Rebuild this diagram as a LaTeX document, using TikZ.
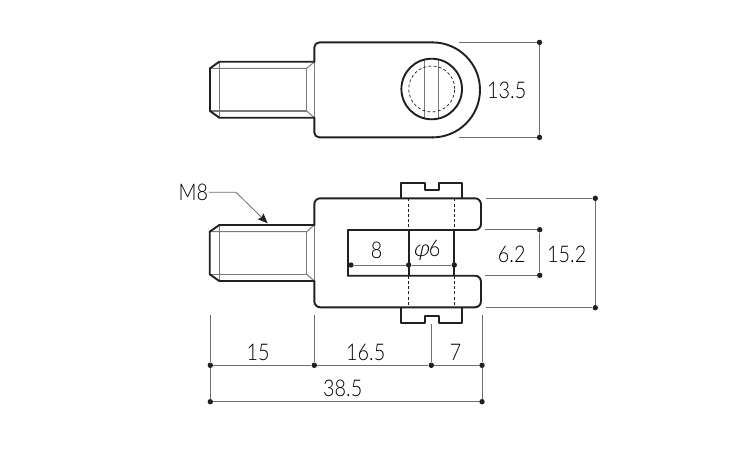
\documentclass[tikz,border=0pt]{standalone}
\usepackage{fontspec}
\setmainfont{Open Sans}
\newfontfamily\dimfont[FakeStretch=0.86,UprightFont=* Light]{Lato}
\newfontfamily\phifont[FakeSlant=0.22,UprightFont=* Light]{Lato}
\usetikzlibrary{arrows.meta}
\definecolor{ink}{HTML}{231F20}
\definecolor{dimgray}{HTML}{6E6E6E}
\definecolor{threadgray}{HTML}{7A7A7A}
\tikzset{
  outline/.style={draw=ink,line width=1.9pt,line join=round,line cap=round},
  slotline/.style={draw=ink,line width=1.7pt},
  hidden/.style={draw=ink,line width=0.7pt,dash pattern=on 3pt off 2.2pt},
  thingray/.style={draw=threadgray,line width=1pt},
  thickgray/.style={draw=threadgray,line width=1.6pt},
  dimline/.style={draw=dimgray,line width=0.8pt},
  dimdot/.style={circle,fill=ink,draw=none,inner sep=0pt,minimum size=5.4pt},
  dimtext/.style={text=black,font=\dimfont\fontsize{23}{25}\selectfont,inner sep=0pt,anchor=center},
}
\begin{document}
\begin{tikzpicture}[x=1pt,y=-1pt]
\useasboundingbox (0,0) rectangle (750,450);
\fill[white] (0,0) rectangle (750,450);

% ---------- top view ----------
\draw[thingray] (314.3,62) -- (314.3,118);
\draw[thingray] (210,68.3) -- (306.7,68.3) -- (314.3,62);
\draw[thickgray] (210,111) -- (306.7,111);
\draw[thingray] (306.7,111) -- (314.3,117.7);
\draw[thingray] (219.3,61.7) -- (219.3,117.7);
\draw[thingray] (306.7,68.3) -- (306.7,111);
\draw[thingray] (210,68.3) -- (219.3,61.7);
\draw[outline] (314.3,61.7) -- (219.3,61.7) -- (210,68.3) -- (210,111) -- (219.3,117.7) -- (314.3,117.7);
\draw[outline,rounded corners=5pt] (432.5,42.4) -- (314.3,42.4) -- (314.3,61.7);
\draw[outline,rounded corners=5pt] (432.5,137.4) -- (314.3,137.4) -- (314.3,117.7);
\draw[outline] (432.5,42.4) .. controls (458.7,42.4) and (480,63.7) .. (480,89.9)
  .. controls (480,116.1) and (458.7,137.4) .. (432.5,137.4);
\draw[thingray] (424.3,59.6) -- (424.3,118.4);
\draw[thingray] (438.3,59.6) -- (438.3,118.4);
\draw[outline] (431.7,89) circle[radius=30.3pt];
\draw[hidden] (431.7,89) circle[radius=23pt];

\node[dimdot] (a1) at (539.5,42.4) {};
\node[dimdot] (a2) at (539.5,137.4) {};
\coordinate (a1s) at (459,42.4);
\coordinate (a2s) at (459,137.4);
\draw[dimline] (a1s) -- (a1) (a2s) -- (a2) (a1) -- (a2);
\node[dimtext] (t135) at (506.7,90.5) {13.5};

% ---------- bottom view ----------
\draw[thingray] (314.3,225) -- (314.3,281);
\draw[thingray] (210,231.7) -- (306.7,231.7) -- (314.3,225);
\draw[thickgray] (210,274.3) -- (306.7,274.3);
\draw[thingray] (306.7,274.3) -- (314.3,281);
\draw[thingray] (219.3,225) -- (219.3,281);
\draw[thingray] (306.7,231.7) -- (306.7,274.3);
\draw[outline] (314.3,225) -- (219.3,225) -- (209.7,231.7) -- (209.7,274.3) -- (219.3,281) -- (314.3,281);
\draw[outline,rounded corners=6pt] (347.7,230) -- (481,230) -- (481,198.3) -- (314.3,198.3) -- (314.3,225);
\draw[outline,rounded corners=6pt] (347.7,275.7) -- (481,275.7) -- (481,307.3) -- (314.3,307.3) -- (314.3,281);
\draw[outline] (347.7,230) -- (347.7,275.7);
\draw[hidden] (408.7,198.3) -- (408.7,230) (408.7,275.7) -- (408.7,307.3);
\draw[hidden] (454.3,198.3) -- (454.3,230) (454.3,275.7) -- (454.3,307.3);
\draw[slotline] (408.7,230) -- (408.7,275.7);
\draw[slotline] (454.3,230) -- (454.3,275.7);
\draw[outline,line cap=butt] (401,198.3) -- (401,183.3) -- (425,183.3) -- (425,190) -- (439,190) -- (439,183.3) -- (462,183.3) -- (462,198.3);
\draw[outline,line cap=butt] (401,307.3) -- (401,323.3) -- (425,323.3) -- (425,315.7) -- (439,315.7) -- (439,323.3) -- (462,323.3) -- (462,307.3);

% inner dimensions
\node[dimdot] (b1) at (351,265) {};
\node[dimdot] (b2) at (408.7,265) {};
\node[dimdot] (b3) at (454.3,265) {};
\draw[dimline] (b1) -- (b2) (b2) -- (b3);
\node[dimtext] (t8) at (376.7,250.7) {8};
\node[dimtext] (tphi) at (426.7,250.7) {{\phifont φ}6};

% right dimensions
\node[dimdot] (c1) at (595.3,198.3) {};
\node[dimdot] (c2) at (595.3,307.7) {};
\node[dimdot] (c3) at (539.7,229.7) {};
\node[dimdot] (c4) at (539.7,275.3) {};
\coordinate (c1s) at (486,198.3);
\coordinate (c2s) at (486,307.7);
\coordinate (c3s) at (485,229.7);
\coordinate (c4s) at (485,275.3);
\draw[dimline] (c1s) -- (c1) (c2s) -- (c2) (c1) -- (c2);
\draw[dimline] (c3s) -- (c3) (c4s) -- (c4) (c3) -- (c4);
\node[dimtext] (t62) at (511.7,254) {6.2};
\node[dimtext] (t152) at (566.7,254) {15.2};

% bottom dimensions
\node[dimdot] (d1) at (210.3,365.3) {};
\node[dimdot] (d2) at (314.3,365.3) {};
\node[dimdot] (d3) at (431.3,365.3) {};
\node[dimdot] (d4) at (482,365.3) {};
\node[dimdot] (e1) at (210.3,401.7) {};
\node[dimdot] (e2) at (482,401.7) {};
\coordinate (d1s) at (210.3,315);
\coordinate (d2s) at (314.3,315);
\coordinate (d3s) at (431.3,324);
\coordinate (d4s) at (482,315);
\draw[dimline] (d1) -- (d2) (d2) -- (d3) (d3) -- (d4) (e1) -- (e2);
\draw[dimline] (d1s) -- (d1) (d1) -- (e1) (d2s) -- (d2) (d3s) -- (d3) (d4s) -- (d4) (d4) -- (e2);
\node[dimtext] (t15) at (258,352) {15};
\node[dimtext] (t165) at (365.7,352) {16.5};
\node[dimtext] (t7) at (455.7,352) {7};
\node[dimtext] (t385) at (342.7,388.5) {38.5};

% thread callout
\node[dimtext] (m8) at (193.3,192.3) {M8};
\coordinate (m8k) at (236,192.3);
\coordinate (m8t) at (267.7,223.3);
\draw[dimline,-{Stealth[length=10pt,width=8pt,inset=1.5pt,color=ink,fill=ink]}] (m8.east) ++(1pt,0) -- (m8k) -- (m8t);
\end{tikzpicture}
\end{document}
